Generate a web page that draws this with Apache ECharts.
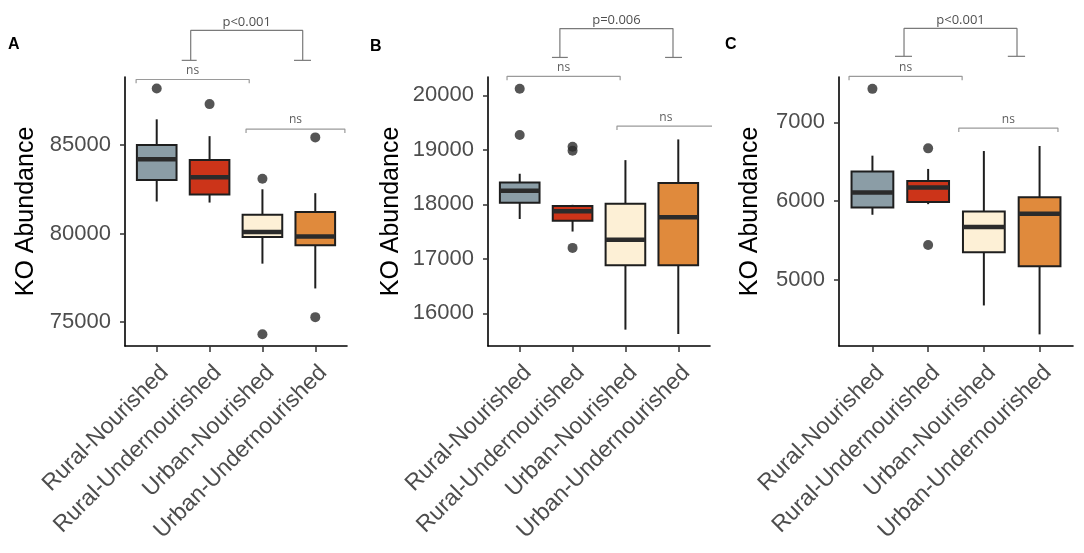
<!DOCTYPE html>
<html><head><meta charset="utf-8">
<script src="https://cdn.jsdelivr.net/npm/echarts@6/dist/echarts.min.js"></script>
<style>html,body{margin:0;padding:0;background:#fff}#c{width:1084px;height:553px}</style>
</head><body><div id="c"></div>
<script>
// ---------- DATA ----------
const categories = ['Rural-Nourished', 'Rural-Undernourished', 'Urban-Nourished', 'Urban-Undernourished'];
const boxColors = ['#8b9da6', '#cc3419', '#fdf0d6', '#e08a3c'];

// Box stats per category: [min whisker, Q1, median, Q3, max whisker]
const boxesA = [[81810, 83030, 84190, 85000, 86450], [81750, 82200, 83180, 84160, 85500], [78300, 79800, 80090, 81060, 82500], [76900, 79340, 79840, 81210, 82280]];
const boxesB = [[17730, 18030, 18250, 18400, 18560], [17500, 17700, 17870, 17970, 17990], [15700, 16880, 17350, 18010, 18810], [15620, 16880, 17760, 18390, 19190]];
const boxesC = [[5825, 5918, 6108, 6374, 6577], [5960, 5986, 6171, 6256, 6408], [4671, 5347, 5668, 5867, 6636], [4303, 5170, 5838, 6049, 6700]];

// Outliers: [category index, value]
const outliersA = [[0, 88190], [1, 87310], [2, 83090], [2, 74310], [3, 85430], [3, 75280]];
const outliersB = [[0, 20120], [0, 19270], [1, 19056], [1, 18983], [1, 17200]];
const outliersC = [[0, 7427], [1, 6670], [1, 5441]];

// Tick labels
const ticksA = [75000, 80000, 85000];
const ticksB = [16000, 17000, 18000, 19000, 20000];
const ticksC = [5000, 6000, 7000];
const rangeA = [73650, 88840];
const rangeB = [15400, 20335];
const rangeC = [4155, 7578];

// Comparison brackets (x in category units, y in data units)
const nsA = [{x1: -0.39, x2: 1.75, y: 88700, tick: 88490, text: 'ns'}, {x1: 1.69, x2: 3.56, y: 85900, tick: 85675, text: 'ns'}];
const nsB = [{x1: -0.24, x2: 1.90, y: 20347, tick: 20274, text: 'ns'}, {x1: 1.84, x2: 3.69, y: 19434, tick: 19361, text: 'ns'}];
const nsC = [{x1: -0.42, x2: 1.61, y: 7587, tick: 7536, text: 'ns'}, {x1: 1.55, x2: 3.33, y: 6928, tick: 6877, text: 'ns'}];
const topA = {x1: 0.643, x2: 2.762, y: 91470, drop: 89780, capL: [0.473, 0.756], capR: [2.597, 2.919], text: 'p<0.001'};
const topB = {x1: 0.76, x2: 2.90, y: 21224, drop: 20694, capL: [0.61, 0.91], capR: [2.75, 3.07], text: 'p=0.006'};
const topC = {x1: 0.567, x2: 2.595, y: 8196, drop: 7841, capL: [0.405, 0.71], capR: [2.43, 2.74], text: 'p<0.001'};

const panelLetters = ['A', 'B', 'C'];

// ---------- LAYOUT ----------
const panels = [
  {boxes: boxesA, out: outliersA, ticks: ticksA, range: rangeA, ns: nsA, top: topA, grid: {left: 125, top: 77, width: 222, height: 269}, nameGap: 86, letter: [8, 37]},
  {boxes: boxesB, out: outliersB, ticks: ticksB, range: rangeB, ns: nsB, top: topB, grid: {left: 488, top: 77, width: 222, height: 269}, nameGap: 84, letter: [370, 39]},
  {boxes: boxesC, out: outliersC, ticks: ticksC, range: rangeC, ns: nsC, top: topC, grid: {left: 839, top: 77, width: 234, height: 269}, nameGap: 76, letter: [725, 37]}
];

const FONT = 'Liberation Sans, Arial, sans-serif';
const grids = [], xAxes = [], yAxes = [], series = [], graphics = [];

function renderBox(params, api) {
  const x = api.value(0);
  const lo = api.coord([x, api.value(1)]);
  const q1 = api.coord([x, api.value(2)]);
  const med = api.coord([x, api.value(3)]);
  const q3 = api.coord([x, api.value(4)]);
  const hi = api.coord([x, api.value(5)]);
  const hw = api.size([0.375, 0])[0];
  const color = boxColors[params.dataIndex];
  return {type: 'group', children: [
    {type: 'line', shape: {x1: lo[0], y1: lo[1], x2: q1[0], y2: q1[1]}, style: {stroke: '#1e1e1e', lineWidth: 2}},
    {type: 'line', shape: {x1: q3[0], y1: q3[1], x2: hi[0], y2: hi[1]}, style: {stroke: '#1e1e1e', lineWidth: 2}},
    {type: 'rect', shape: {x: q1[0] - hw, y: q3[1], width: 2 * hw, height: q1[1] - q3[1]}, style: {fill: color, stroke: '#1e1e1e', lineWidth: 2}},
    {type: 'line', shape: {x1: med[0] - hw, y1: med[1], x2: med[0] + hw, y2: med[1]}, style: {stroke: '#2b2b2b', lineWidth: 4.5}}
  ]};
}

panels.forEach((p, i) => {
  grids.push(Object.assign({containLabel: false}, p.grid));
  xAxes.push({
    type: 'value', gridIndex: i, min: -0.6, max: 3.6,
    axisLine: {onZero: false, lineStyle: {color: '#000', width: 1.6}},
    splitLine: {show: false},
    axisTick: {customValues: [0, 1, 2, 3], length: 6, lineStyle: {color: '#333', width: 1.5}},
    axisLabel: {customValues: [0, 1, 2, 3], formatter: v => categories[Math.round(v)], rotate: 45, align: 'right', verticalAlign: 'top', fontSize: 23, color: '#4d4d4d', fontFamily: FONT, margin: 15}
  });
  yAxes.push({
    type: 'value', gridIndex: i, min: p.range[0], max: p.range[1],
    name: 'KO Abundance', nameLocation: 'middle', nameGap: p.nameGap,
    nameTextStyle: {fontSize: 25, color: '#000', fontFamily: FONT},
    axisLine: {show: true, onZero: false, lineStyle: {color: '#000', width: 1.6}},
    splitLine: {show: false},
    axisTick: {show: true, customValues: p.ticks, length: 5, lineStyle: {color: '#333', width: 1.5}},
    axisLabel: {customValues: p.ticks, formatter: v => String(v), fontSize: 22, color: '#4d4d4d', fontFamily: FONT, margin: 14}
  });
  series.push({
    type: 'custom', xAxisIndex: i, yAxisIndex: i, renderItem: renderBox,
    encode: {x: 0, y: [1, 2, 3, 4, 5]}, silent: true,
    data: p.boxes.map((b, k) => [k].concat(b))
  });
  series.push({
    type: 'scatter', xAxisIndex: i, yAxisIndex: i, symbolSize: 10, silent: true,
    itemStyle: {color: '#2b2b2b'},
    data: p.out.map(o => [o[0], o[1]])
  });
  // ns brackets
  p.ns.forEach(b => {
    series.push({
      type: 'line', xAxisIndex: i, yAxisIndex: i, showSymbol: false, silent: true, clip: false, z: 5,
      lineStyle: {color: '#9a9a9a', width: 1.2}, animation: false,
      data: [[b.x1, b.tick], [b.x1, b.y], [b.x2, b.y], [b.x2, b.tick]]
    });
    series.push({
      type: 'scatter', xAxisIndex: i, yAxisIndex: i, symbolSize: 0, silent: true, clip: false,
      label: {show: true, position: 'top', distance: 3, formatter: b.text, fontSize: 12, color: '#333', fontFamily: 'Open Sans, sans-serif'},
      data: [[(b.x1 + b.x2) / 2, b.y]]
    });
  });
  // top p-value bracket
  const t = p.top;
  [[[t.x1, t.drop], [t.x1, t.y], [t.x2, t.y], [t.x2, t.drop]],
   [[t.capL[0], t.drop], [t.capL[1], t.drop]],
   [[t.capR[0], t.drop], [t.capR[1], t.drop]]].forEach(seg => {
    series.push({
      type: 'line', xAxisIndex: i, yAxisIndex: i, showSymbol: false, silent: true, clip: false, z: 5,
      lineStyle: {color: '#7a7a7a', width: 1.2}, animation: false, data: seg
    });
  });
  series.push({
    type: 'scatter', xAxisIndex: i, yAxisIndex: i, symbolSize: 0, silent: true, clip: false,
    label: {show: true, position: 'top', distance: 2, formatter: t.text, fontSize: 13, color: '#222', fontFamily: 'Open Sans, sans-serif'},
    data: [[(t.x1 + t.x2) / 2, t.y]]
  });
  graphics.push({type: 'text', left: p.letter[0], top: p.letter[1], style: {text: panelLetters[i], font: 'bold 16px ' + FONT, fill: '#000'}});
});

const chart = echarts.init(document.getElementById('c'), null, {renderer: 'canvas'});
chart.setOption({
  animation: false,
  backgroundColor: '#fff',
  grid: grids, xAxis: xAxes, yAxis: yAxes, series: series, graphic: graphics
});
</script>
</body></html>
